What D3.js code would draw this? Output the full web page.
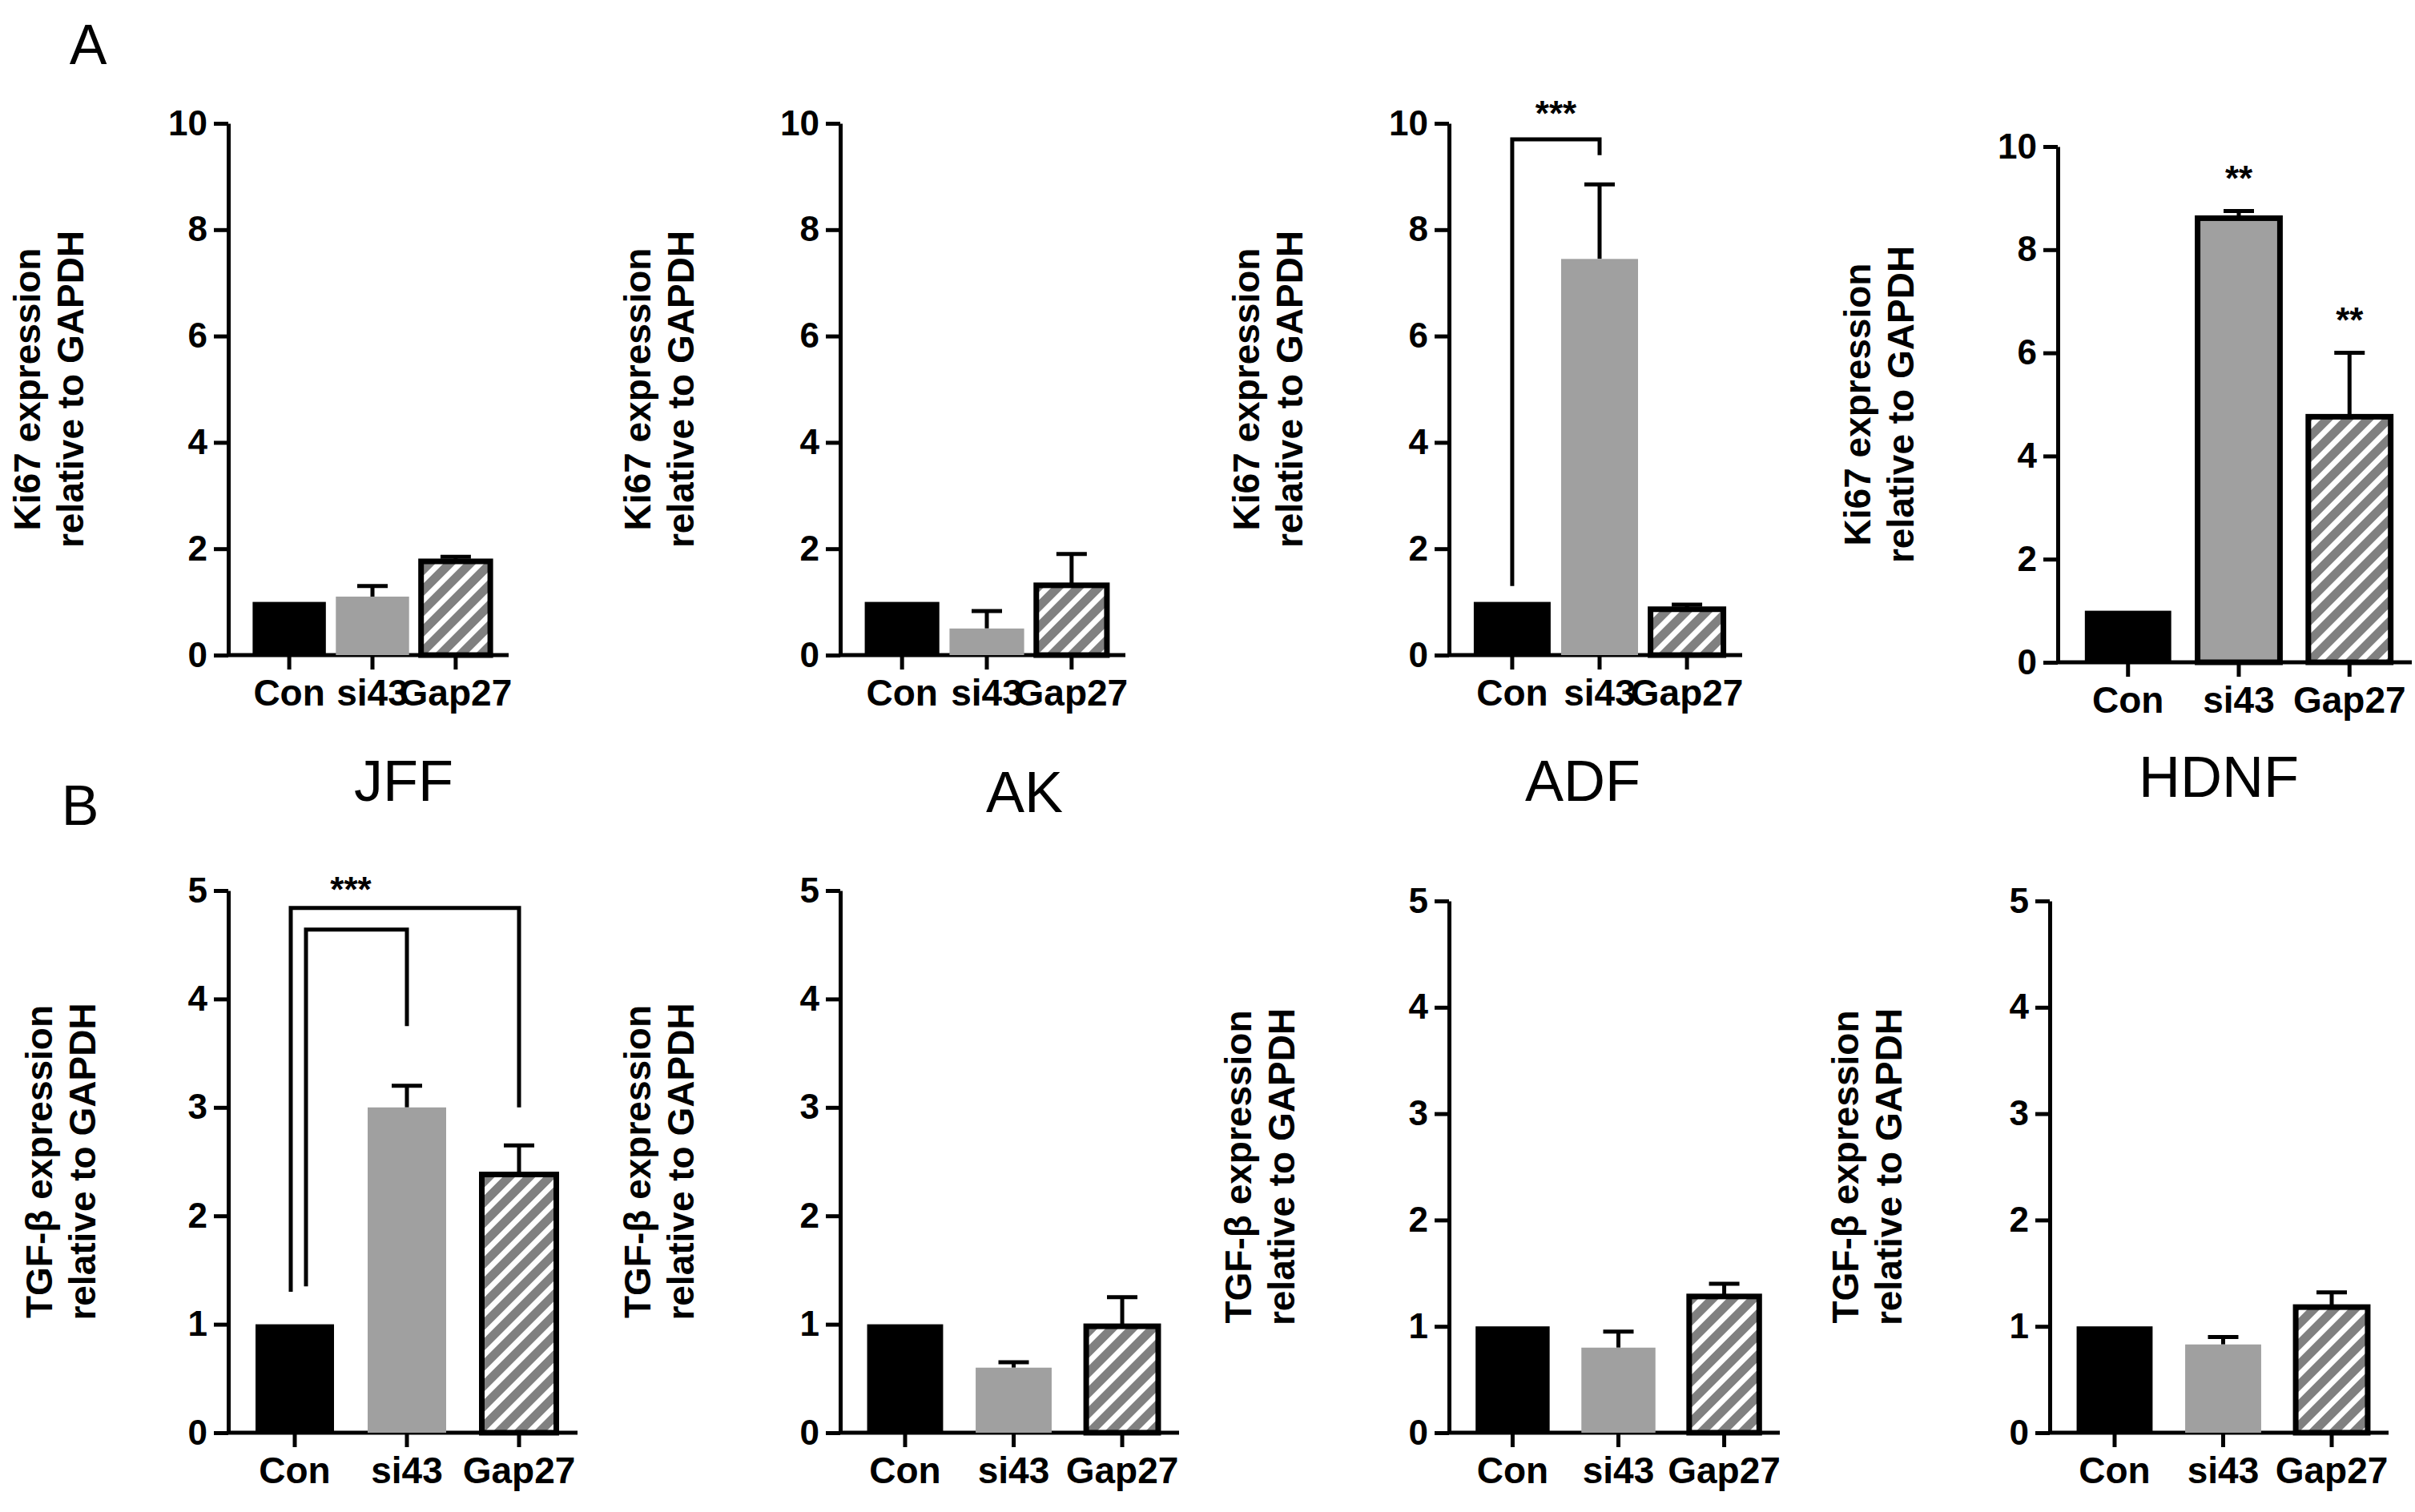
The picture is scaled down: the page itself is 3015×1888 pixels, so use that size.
<!DOCTYPE html>
<html><head><meta charset="utf-8">
<script src="https://cdn.jsdelivr.net/npm/d3@7"></script>
<style>body{margin:0;background:#fff}text{font-family:Arial,"Liberation Sans",sans-serif}</style>
</head><body>
<svg id="chart" width="3015" height="1888"></svg>
<script>
const groups = ["Con", "si43", "Gap27"];
const panelTitles = ["", "", "", "", "JFF", "AK", "ADF", "HDNF"];
const ki67Values = [[1, 1.1, 1.8], [1, 0.5, 1.35], [1, 7.45, 0.9], [1, 8.65, 4.8]];
const ki67Errors = [[0, 0.2, 0.05], [0, 0.33, 0.55], [0, 1.4, 0.05], [0, 0.1, 1.2]];
const tgfValues = [[1, 3.0, 2.4], [1, 0.6, 1.0], [1, 0.8, 1.3], [1, 0.83, 1.2]];
const tgfErrors = [[0, 0.2, 0.25], [0, 0.05, 0.25], [0, 0.15, 0.1], [0, 0.07, 0.12]];
const ki67Ticks = [0, 2, 4, 6, 8, 10];
const tgfTicks = [0, 1, 2, 3, 4, 5];

const svg = d3.select("#chart");
const defs = svg.append("defs");
const pat = defs.append("pattern").attr("id", "hatch").attr("patternUnits", "userSpaceOnUse")
  .attr("width", 18).attr("height", 18).attr("patternTransform", "rotate(45)");
pat.append("rect").attr("width", 18).attr("height", 18).attr("fill", "#808080");
pat.append("rect").attr("width", 7).attr("height", 18).attr("fill", "#fff");

// layout per panel: axis x, axis end, y top, y bottom, label x, inner padding
const layout = [
  {x0: 285, x1: 635, yT: 154, yB: 818, lx: 50, pad: 0.12},
  {x0: 1049, x1: 1405, yT: 154, yB: 818, lx: 812, pad: 0.12},
  {x0: 1809, x1: 2175, yT: 154, yB: 818, lx: 1572, pad: 0.12},
  {x0: 2569, x1: 3011, yT: 183, yB: 827, lx: 2335, pad: 0.22},
  {x0: 285, x1: 721, yT: 1112, yB: 1789, lx: 65, pad: 0.3},
  {x0: 1049, x1: 1472, yT: 1112, yB: 1789, lx: 812, pad: 0.3},
  {x0: 1809, x1: 2222, yT: 1125, yB: 1789, lx: 1562, pad: 0.3},
  {x0: 2559, x1: 2982, yT: 1125, yB: 1789, lx: 2320, pad: 0.3}
];
const titlePos = [null, null, null, null, [504, 1000], [1279, 1014], [1976, 1000], [2770, 995]];

svg.append("text").attr("x", 110).attr("y", 80).attr("text-anchor", "middle").attr("font-size", 70).text("A");
svg.append("text").attr("x", 100).attr("y", 1030).attr("text-anchor", "middle").attr("font-size", 70).text("B");

layout.forEach((L, p) => {
  const isA = p < 4;
  const vals = isA ? ki67Values[p] : tgfValues[p - 4];
  const errs = isA ? ki67Errors[p] : tgfErrors[p - 4];
  const ticks = isA ? ki67Ticks : tgfTicks;
  const y = d3.scaleLinear().domain([0, isA ? 10 : 5]).range([L.yB, L.yT]);
  const x = d3.scaleBand().domain(groups).range([L.x0 + 20, L.x1 - 10]).paddingInner(L.pad).paddingOuter(0.1);
  const g = svg.append("g");

  g.append("g").attr("transform", `translate(${L.x0},0)`)
    .call(d3.axisLeft(y).tickValues(ticks).tickFormat(d3.format("d")).tickSize(18).tickSizeOuter(0).tickPadding(8))
    .call(a => { a.selectAll("path,line").attr("stroke", "#000").attr("stroke-width", 5);
      a.selectAll("text").attr("font-size", 44).attr("font-weight", "bold").attr("font-family", "Arial, Liberation Sans"); });
  g.append("g").attr("transform", `translate(0,${L.yB})`)
    .call(d3.axisBottom(x).tickSize(18).tickSizeOuter(0).tickPadding(12))
    .call(a => { a.select("path").attr("d", `M${L.x0},0H${L.x1}`);
      a.selectAll("path,line").attr("stroke", "#000").attr("stroke-width", 5);
      a.selectAll("text").attr("font-size", 46).attr("font-weight", "bold").attr("font-family", "Arial, Liberation Sans"); });

  const outlined = i => i === 2 || (p === 3 && i === 1);
  g.selectAll("path.err").data(vals).enter().append("path")
    .attr("d", (d, i) => { const cx = x(groups[i]) + x.bandwidth() / 2, ye = y(d + errs[i]);
      return errs[i] ? `M${cx},${y(d)}V${ye}M${cx - 19},${ye}H${cx + 19}` : ""; })
    .attr("stroke", "#000").attr("stroke-width", 5).attr("fill", "none");
  g.selectAll("rect.bar").data(vals).enter().append("rect")
    .attr("x", (d, i) => x(groups[i]) + (outlined(i) ? 2.5 : 0))
    .attr("width", (d, i) => x.bandwidth() - (outlined(i) ? 5 : 0))
    .attr("y", (d, i) => y(d) + (outlined(i) ? 2.5 : 0))
    .attr("height", (d, i) => L.yB - y(d) - (outlined(i) ? 2.5 : 0))
    .attr("fill", (d, i) => i === 0 ? "#000" : i === 1 ? "#a0a0a0" : "url(#hatch)")
    .attr("stroke", (d, i) => outlined(i) ? "#000" : "none").attr("stroke-width", 7);

  const cy = (L.yT + L.yB) / 2;
  const lab = g.append("text").attr("transform", `translate(${L.lx},${cy}) rotate(-90)`)
    .attr("text-anchor", "middle").attr("font-size", 46).attr("font-weight", "bold");
  lab.append("tspan").attr("x", 0).attr("dy", 0).text(isA ? (p === 1 ? "Ki67  expression" : "Ki67 expression") : "TGF-β expression");
  lab.append("tspan").attr("x", 0).attr("dy", 54).text("relative to GAPDH");

  if (titlePos[p]) svg.append("text").attr("x", titlePos[p][0]).attr("y", titlePos[p][1])
    .attr("text-anchor", "middle").attr("font-size", 72).text(panelTitles[p]);

  const cxOf = i => x(groups[i]) + x.bandwidth() / 2;
  const bracket = (xa, ya, yTop, xb, yb) => g.append("path")
    .attr("d", `M${xa},${y(ya)}V${y(yTop)}H${xb}V${y(yb)}`).attr("fill", "none").attr("stroke", "#000").attr("stroke-width", 5);
  const stars = (sx, v, s) => g.append("text").attr("x", sx).attr("y", y(v)).attr("text-anchor", "middle")
    .attr("font-size", 44).attr("font-weight", "bold").text(s);
  if (p === 2) { bracket(cxOf(0), 1.3, 9.7, cxOf(1), 9.4); stars((cxOf(0) + cxOf(1)) / 2, 9.95, "***"); }
  if (p === 3) { stars(cxOf(1), 9.15, "**"); stars(cxOf(2), 6.4, "**"); }
  if (p === 4) {
    bracket(cxOf(0) - 5, 1.3, 4.84, cxOf(2), 3.0);
    bracket(cxOf(0) + 14, 1.35, 4.64, cxOf(1), 3.75);
    stars((cxOf(0) + cxOf(1)) / 2, 4.9, "***");
  }
});
</script>
</body></html>
